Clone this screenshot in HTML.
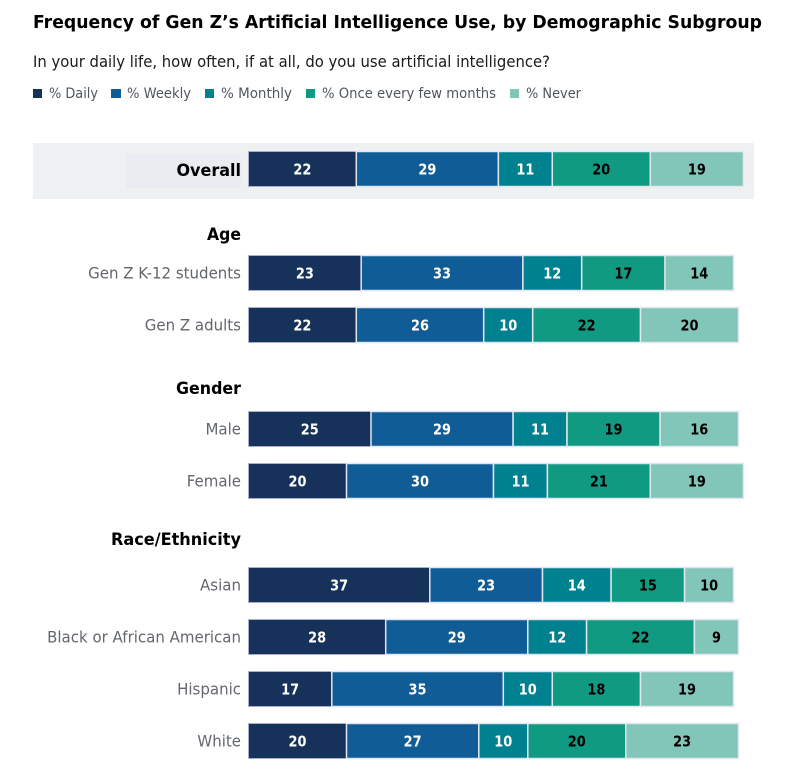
<!DOCTYPE html>
<html lang="en">
<head>
<meta charset="utf-8">
<title>Frequency of Gen Z's Artificial Intelligence Use</title>
<style>
html,body{margin:0;padding:0;background:#fff;width:788px;height:770px;overflow:hidden}
svg{display:block;font-family:"DejaVu Sans","Liberation Sans",sans-serif}
</style>
</head>
<body>
<svg id="chart" width="788" height="770" viewBox="0 0 788 770" xmlns="http://www.w3.org/2000/svg">
  <text x="33" y="28" font-size="18" font-weight="700" fill="#000" textLength="729" lengthAdjust="spacingAndGlyphs">Frequency of Gen Z’s Artificial Intelligence Use, by Demographic Subgroup</text>
  <text x="33" y="67" font-size="16" fill="#1a1a1a" textLength="517" lengthAdjust="spacingAndGlyphs">In your daily life, how often, if at all, do you use artificial intelligence?</text>

  <g font-size="14" fill="#50565e">
    <rect x="33" y="89" width="9" height="9" fill="#17325a"/>
    <text x="49" y="98" textLength="49" lengthAdjust="spacingAndGlyphs">% Daily</text>
    <rect x="111" y="89" width="10" height="9" fill="#0f5c96"/>
    <text x="127" y="98" textLength="64" lengthAdjust="spacingAndGlyphs">% Weekly</text>
    <rect x="205" y="89" width="9" height="9" fill="#00818f"/>
    <text x="221" y="98" textLength="71" lengthAdjust="spacingAndGlyphs">% Monthly</text>
    <rect x="306" y="89" width="9" height="9" fill="#109a82"/>
    <text x="322" y="98" textLength="174" lengthAdjust="spacingAndGlyphs">% Once every few months</text>
    <rect x="510" y="89" width="9" height="9" fill="#82c6b9"/>
    <text x="526" y="98" textLength="55" lengthAdjust="spacingAndGlyphs">% Never</text>
  </g>

  <rect x="33" y="143" width="721" height="56" fill="#eef0f1"/>
  <rect x="126" y="155" width="115" height="33" fill="#e9edf1"/>

  <text x="241" y="240" text-anchor="end" font-size="17" font-weight="700" fill="#000" textLength="34" lengthAdjust="spacingAndGlyphs">Age</text>
  <text x="241" y="394" text-anchor="end" font-size="17" font-weight="700" fill="#000" textLength="65" lengthAdjust="spacingAndGlyphs">Gender</text>
  <text x="241" y="545" text-anchor="end" font-size="17" font-weight="700" fill="#000" textLength="130" lengthAdjust="spacingAndGlyphs">Race/Ethnicity</text>

  <g id="bars"></g>
</svg>
<script>
const categories = ["Overall","Gen Z K-12 students","Gen Z adults","Male","Female","Asian","Black or African American","Hispanic","White"];
const seriesNames = ["daily","weekly","monthly","once-every-few-months","never"];
const daily =   [22,23,22,25,20,37,28,17,20];
const weekly =  [29,33,26,29,30,23,29,35,27];
const monthly = [11,12,10,11,11,14,12,10,10];
const onceEveryFewMonths = [20,17,22,19,21,15,22,18,20];
const never =   [19,14,20,16,19,10,9,19,23];

const series = [daily, weekly, monthly, onceEveryFewMonths, never];
const fills = ["#17325a","#0f5c96","#00818f","#109a82","#82c6b9"];
const valueInk = ["#fff","#fff","#fff","#000","#000"];
const slots = [0,2,3,5,6,8,9,10,11];

const NS = "http://www.w3.org/2000/svg";
const X0 = 248.5, UNIT = 4.9, Y0 = 151.5, STEP = 52, BAR_H = 35;
const xScale = v => X0 + v * UNIT;
const yScale = slot => Y0 + slot * STEP;
const root = document.getElementById("bars");

function make(tag, attrs, parent) {
  const el = document.createElementNS(NS, tag);
  for (const k in attrs) el.setAttribute(k, attrs[k]);
  parent.appendChild(el);
  return el;
}
function slug(s) { return s.toLowerCase().replace(/[^a-z0-9]+/g, "-"); }

categories.forEach((cat, i) => {
  const y = yScale(slots[i]);
  const overall = i === 0;
  const row = make("g", {}, root);
  
  

  const label = make("text", {
    x: 241, y: y + BAR_H / 2 + (overall ? 7 : 5.5), "text-anchor": "end",
    "font-size": overall ? 16 : 15,
    "font-weight": overall ? 700 : 400,
    fill: overall ? "#000" : "#63676c"
  }, row);
  
  
  label.textContent = cat;
  const naturalWidth = label.getComputedTextLength();
  label.setAttribute("font-size", overall ? 17 : 16);
  label.setAttribute("textLength", naturalWidth);
  label.setAttribute("lengthAdjust", "spacingAndGlyphs");

  let cum = 0;
  series.forEach((values, s) => {
    const v = values[i];
    const x = xScale(cum), w = v * UNIT;
    const seg = make("rect", {
      x: x, y: y, width: w, height: BAR_H, fill: fills[s],
      stroke: s === 0 ? "#a9afc9" : "#e2e6ee", "stroke-width": s === 0 ? 1 : 1.5
    }, row);
    
    

    const t = make("text", {
      x: x + w / 2, y: y + BAR_H / 2 + 5.5, "text-anchor": "middle",
      "font-size": 15, "font-weight": 700, fill: valueInk[s],
      textLength: String(v).length * 9, lengthAdjust: "spacingAndGlyphs"
    }, row);
    
    
    t.textContent = v;
    cum += v;
  });
});
</script>
</body>
</html>
